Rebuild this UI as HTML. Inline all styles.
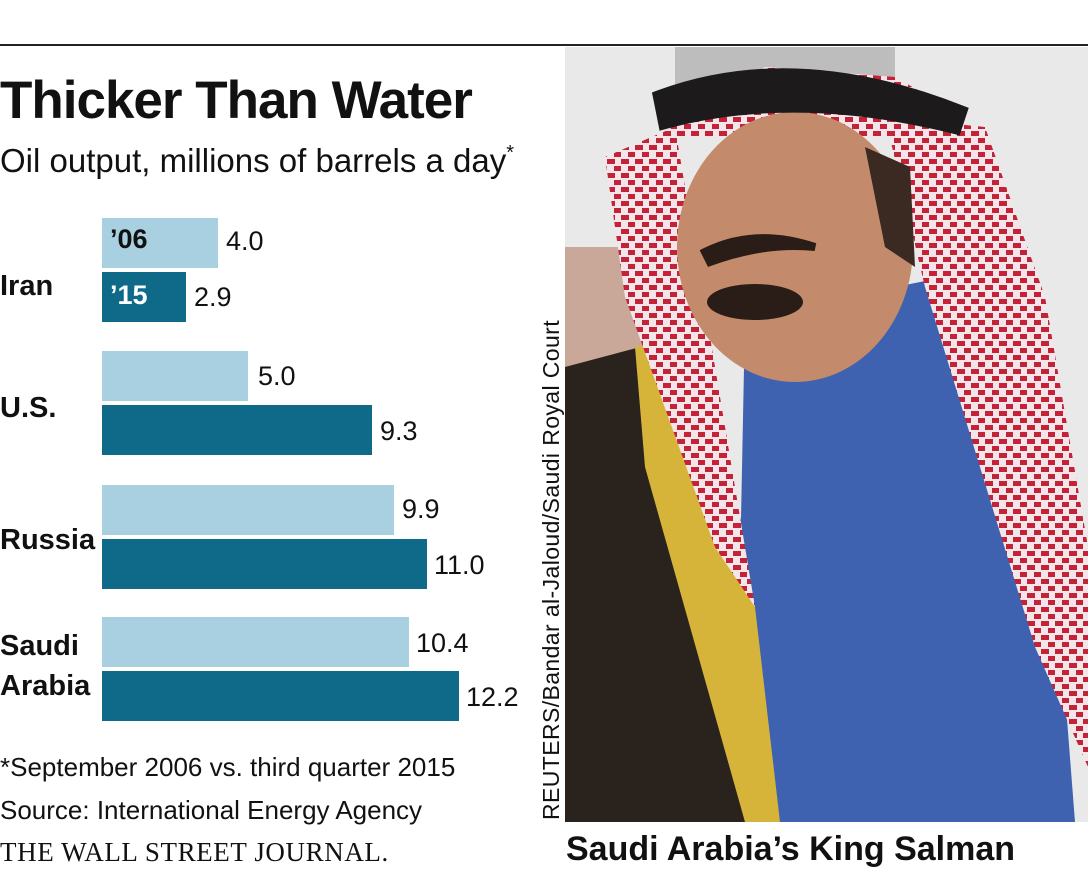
<!DOCTYPE html>
<html><head><meta charset="utf-8"><style>
body{margin:0;width:1088px;height:873px;background:#fff;position:relative;overflow:hidden;font-family:"Liberation Sans",sans-serif;color:#111}
.a{position:absolute}
.bar{position:absolute;left:102px;height:50px}
.l{background:#a8d0e0}.d{background:#0e6a88}
.v{position:absolute;font-size:27px}
.c{position:absolute;left:0;font-size:29px;font-weight:bold;line-height:40px}
</style></head><body>
<div class="a" style="left:0;top:44px;width:1088px;height:2px;background:#222"></div>
<div class="a" style="left:0;top:70px;font-size:53px;font-weight:bold;letter-spacing:-1px">Thicker Than Water</div>
<div class="a" style="left:0;top:142px;font-size:33px">Oil output, millions of barrels a day<span style="font-size:20px;vertical-align:top">*</span></div>

<div class="bar l" style="top:218px;width:116px"></div><div class="v" style="left:226px;top:226px">4.0</div>
<div class="a" style="left:110px;top:224px;font-size:27px;font-weight:bold">’06</div>
<div class="bar d" style="top:272px;width:84px"></div><div class="v" style="left:194px;top:282px">2.9</div>
<div class="a" style="left:110px;top:280px;font-size:27px;font-weight:bold;color:#fff">’15</div>
<div class="c" style="top:266px">Iran</div>

<div class="bar l" style="top:351px;width:146px"></div><div class="v" style="left:258px;top:361px">5.0</div>
<div class="bar d" style="top:405px;width:270px"></div><div class="v" style="left:380px;top:416px">9.3</div>
<div class="c" style="top:388px">U.S.</div>

<div class="bar l" style="top:485px;width:292px"></div><div class="v" style="left:402px;top:494px">9.9</div>
<div class="bar d" style="top:539px;width:325px"></div><div class="v" style="left:434px;top:550px">11.0</div>
<div class="c" style="top:520px">Russia</div>

<div class="bar l" style="top:617px;width:307px"></div><div class="v" style="left:416px;top:628px">10.4</div>
<div class="bar d" style="top:671px;width:357px"></div><div class="v" style="left:466px;top:682px">12.2</div>
<div class="c" style="top:626px">Saudi<br>Arabia</div>

<div class="a" style="left:0;top:752px;font-size:26px">*September 2006 vs. third quarter 2015</div>
<div class="a" style="left:0;top:795px;font-size:26px">Source: International Energy Agency</div>
<div class="a" style="left:0;top:837px;font-size:27px;font-family:'Liberation Serif',serif;letter-spacing:0.6px">THE WALL STREET JOURNAL.</div>

<div class="a" style="left:538px;top:820px;transform-origin:0 0;transform:rotate(-90deg);font-size:23px;letter-spacing:0.4px;white-space:nowrap;width:530px">REUTERS/Bandar al-Jaloud/Saudi Royal Court</div>

<svg class="a" style="left:565px;top:47px" width="523" height="775" viewBox="0 0 523 775">
<defs><pattern id="k" width="14" height="14" patternUnits="userSpaceOnUse"><rect width="14" height="14" fill="#f3e6ea"/><rect x="0" y="0" width="8" height="5" fill="#c42236"/><rect x="7" y="7" width="7" height="5" fill="#c42236"/></pattern></defs>
<rect width="523" height="775" fill="#e9e9e9"/>
<rect x="110" y="0" width="220" height="60" fill="#bdbdbd"/>
<rect x="0" y="200" width="100" height="120" fill="#c9a89a"/>
<polygon points="180,270 380,230 470,260 510,775 170,775" fill="#3f62b0"/>
<polygon points="0,320 75,300 160,520 200,775 0,775" fill="#2a221c"/>
<polygon points="70,300 95,295 190,560 215,775 180,775 80,420" fill="#d6b43a"/>
<polygon points="40,110 110,80 180,500 190,560 150,500 60,250" fill="url(#k)"/>
<polygon points="320,70 420,80 480,250 523,500 523,720 470,600 360,240" fill="url(#k)"/>
<polygon points="100,70 200,20 330,30 400,70 330,90 110,90" fill="url(#k)"/>
<ellipse cx="230" cy="200" rx="118" ry="135" fill="#c38b6b"/>
<path d="M95,50 Q230,0 395,65 L390,80 Q230,40 100,75Z" fill="#1c1a1a" stroke="#1c1a1a" stroke-width="14"/>
<path d="M140,205 Q190,180 250,200 Q200,195 145,215Z" fill="#2a1c16" stroke="#2a1c16" stroke-width="8"/>
<ellipse cx="190" cy="255" rx="48" ry="18" fill="#2a1c16"/>
<polygon points="300,100 345,120 350,220 320,200" fill="#3a2a22"/>
</svg>
<div class="a" style="left:566px;top:830px;font-size:34px;font-weight:bold">Saudi Arabia’s King Salman</div>
</body></html>
